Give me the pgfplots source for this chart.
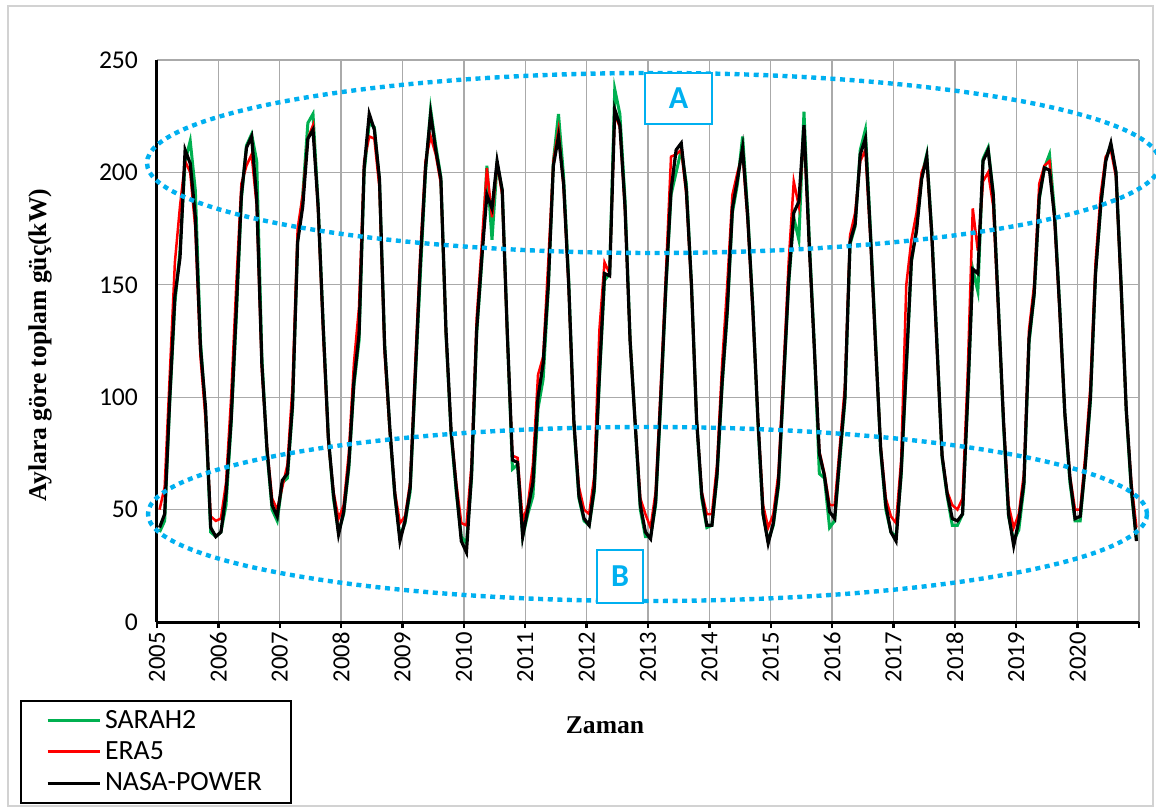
\documentclass[border=0pt]{standalone}
\usepackage{fontspec}
\setmainfont{Carlito}
\newfontfamily\tnr{Liberation Serif}
\usepackage{pgfplots}
\usepackage{pgfplotstable}
\pgfplotsset{compat=1.18}
\definecolor{cgreen}{RGB}{0,176,80}
\definecolor{cred}{RGB}{255,0,0}
\definecolor{ccyan}{RGB}{0,176,240}
\definecolor{cgrid}{RGB}{170,170,170}
\definecolor{cframe}{RGB}{210,210,210}
% i = month index from Jan 2005; s = SARAH2, e = ERA5, n = NASA-POWER
\pgfplotstableread{
i s e n
0 40 50 42
1 45 60 48
2 98 110 100
3 142 160 145
4 165 185 162
5 205 205 210
6 214 200 204
7 192 175 180
8 125 118 122
9 93 90 95
10 40 47 42
11 38 45 38
12 40 46 40
13 52 62 57
14 88 100 90
15 135 150 139
16 188 195 190
17 212 203 211
18 217 208 216
19 205 185 188
20 118 112 115
21 76 78 77
22 50 55 52
23 45 50 47
24 62 60 63
25 64 70 66
26 95 105 97
27 170 175 169
28 190 190 185
29 222 215 215
30 226 221 219
31 186 183 185
32 132 128 131
33 82 80 82
34 55 58 57
35 40 46 39
36 48 52 49
37 68 75 70
38 105 115 107
39 125 140 128
40 200 205 202
41 222 216 226
42 220 215 219
43 196 193 197
44 124 120 123
45 86 85 87
46 56 58 57
47 38 44 36
48 44 47 45
49 58 62 60
50 108 115 110
51 155 165 160
52 200 205 202
53 228 216 226
54 212 208 210
55 198 195 197
56 128 128 130
57 84 85 85
58 58 62 60
59 38 44 36
60 35 43 31
61 64 70 66
62 128 135 130
63 160 168 162
64 203 202 190
65 170 180 184
66 204 204 205
67 192 190 192
68 128 126 128
69 68 74 72
70 70 73 71
71 38 45 38
72 48 52 50
73 56 70 62
74 95 110 100
75 108 118 115
76 148 160 150
77 205 205 203
78 226 219 216
79 198 193 195
80 152 148 150
81 88 88 90
82 55 60 56
83 45 50 46
84 43 48 43
85 58 65 60
86 108 130 110
87 152 160 155
88 155 155 154
89 237 226 228
90 226 220 221
91 188 183 185
92 126 125 125
93 88 88 88
94 50 55 52
95 38 48 40
96 38 42 37
97 52 58 54
98 98 105 100
99 148 155 150
100 190 207 192
101 200 208 210
102 210 210 213
103 195 190 192
104 150 148 150
105 90 90 90
106 55 58 57
107 42 48 43
108 43 48 43
109 64 70 66
110 105 115 107
111 137 150 139
112 182 190 184
113 195 200 197
114 216 208 211
115 182 178 180
116 140 137 139
117 88 90 90
118 48 52 48
119 36 42 35
120 43 48 44
121 60 66 62
122 105 112 107
123 150 160 152
124 180 196 182
125 170 185 187
126 227 218 221
127 172 168 169
128 124 122 123
129 66 76 75
130 64 66 65
131 42 52 49
132 45 52 46
133 72 78 74
134 98 105 100
135 168 172 169
136 176 182 177
137 210 205 208
138 219 210 215
139 174 170 172
140 125 122 123
141 76 78 77
142 50 55 52
143 40 47 40
144 38 44 36
145 65 72 67
146 112 150 114
147 160 170 161
148 175 182 174
149 198 200 197
150 208 206 207
151 173 170 172
152 124 121 123
153 73 74 74
154 56 58 57
155 43 52 46
156 43 50 45
157 48 55 48
158 98 110 100
159 157 184 157
160 147 165 155
161 206 196 205
162 211 200 210
163 191 185 190
164 141 138 140
165 88 90 90
166 47 52 48
167 36 42 34
168 41 48 45
169 60 66 62
170 124 130 126
171 145 150 146
172 188 195 189
173 202 203 202
174 208 205 201
175 182 178 180
176 140 137 139
177 92 92 93
178 62 65 64
179 45 50 46
180 45 50 47
181 70 74 70
182 98 105 100
183 155 160 155
184 184 190 185
185 206 207 205
186 212 210 213
187 200 198 200
188 150 148 150
189 94 94 95
190 58 62 60
191 37 42 36
}\data
\begin{document}
\begin{tikzpicture}
\useasboundingbox (-78.5pt,-93pt) rectangle (499.5pt,311pt);
\draw[cframe, line width=0.8pt] (-74.5pt,-92pt) rectangle (498pt,308pt);
\begin{axis}[
  at={(0pt,0pt)}, anchor=origin,
  scale only axis, width=491pt, height=281pt,
  xmin=2005, xmax=2021, ymin=0, ymax=250,
  xtick={2005,2006,...,2021},
  xticklabels={2005,2006,2007,2008,2009,2010,2011,2012,2013,2014,2015,2016,2017,2018,2019,2020,},
  ytick={0,50,...,250},
  axis x line*=bottom, axis y line*=left,
  axis line style={line width=1.5pt, black, -},
  grid=major,
  major grid style={cgrid, line width=0.7pt},
  major tick length=3pt,
  x tick style={black, line width=1.2pt},
  xtick align=outside,
  y tick style={draw=none},
  /pgf/number format/assume math mode=true,
  xticklabel style={rotate=90, anchor=east, font=\fontsize{12.3}{13}\selectfont, inner sep=2pt},
  yticklabel style={font=\fontsize{12.8}{14}\selectfont, xshift=-6pt},
  legend style={at={(-0.1395,-0.1388)}, anchor=north west, draw=black, line width=1pt,
    font=\fontsize{13.9}{15}\selectfont, inner xsep=12.5pt, inner ysep=2.5pt,
    row sep=1.2pt, cells={anchor=west}},
  legend image code/.code={\draw[#1, line width=1.5pt] (0pt,0pt) -- (26pt,0pt);},
  clip=false,
]
\addplot[cgreen, line width=1.5pt] table[x expr=2005+(\thisrow{i}+0.5)/12, y=s] {\data};
\addlegendentry{SARAH2}
\addplot[cred, line width=1.25pt] table[x expr=2005+(\thisrow{i}+0.5)/12, y=e] {\data};
\addlegendentry{ERA5}
\addplot[black, line width=1.6pt] table[x expr=2005+(\thisrow{i}+0.5)/12, y=n] {\data};
\addlegendentry{NASA-POWER}
\end{axis}
\draw[ccyan, line width=2.2pt, dash pattern=on 2.5pt off 2.3pt] (248.25pt,229.5pt) ellipse [x radius=253.25pt, y radius=45pt];
\draw[ccyan, line width=2.2pt, dash pattern=on 2.5pt off 2.3pt] (245.25pt,54pt) ellipse [x radius=249.75pt, y radius=43.5pt];
\draw[ccyan, line width=1.3pt, fill=white] (244pt,274.5pt) rectangle (277.5pt,249pt);
\node[ccyan, font=\bfseries\fontsize{16}{16}\selectfont] at (260.75pt,261.75pt) {A};
\draw[ccyan, line width=1.3pt, fill=white] (220pt,36pt) rectangle (243pt,9.5pt);
\node[ccyan, font=\bfseries\fontsize{16}{16}\selectfont] at (231.5pt,22.75pt) {B};
\node[rotate=90, font=\tnr\bfseries\fontsize{12.8}{14}\selectfont] at (-58.5pt,138.5pt) {Aylara göre toplam güç(kW)};
\node[font=\tnr\bfseries\fontsize{12.8}{14}\selectfont] at (224pt,-51.5pt) {Zaman};
\end{tikzpicture}
\end{document}
